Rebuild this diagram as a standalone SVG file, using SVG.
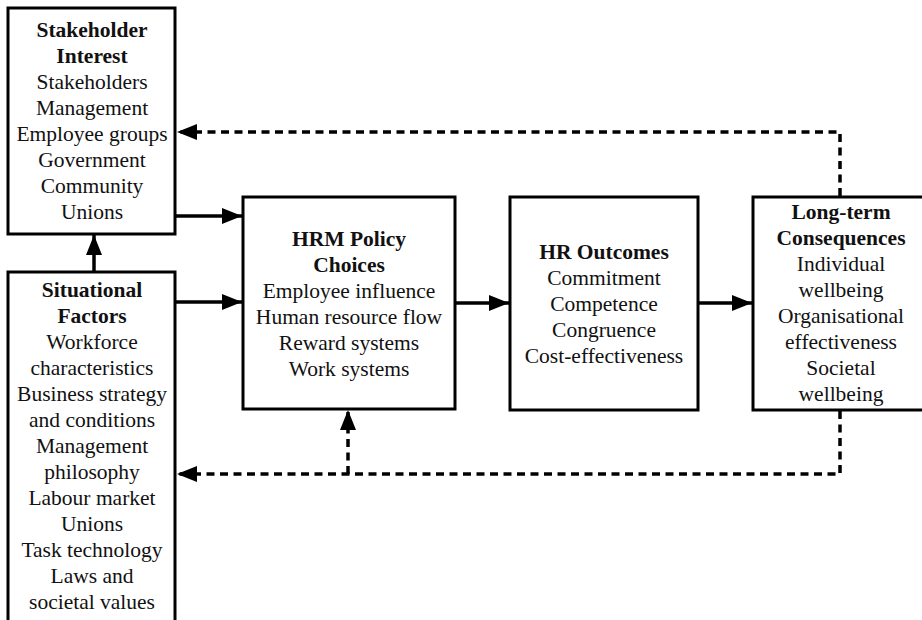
<svg xmlns="http://www.w3.org/2000/svg" width="922" height="620" viewBox="0 0 922 620">
<style>
.box{fill:#fff;stroke:#000;stroke-width:3}
text{font-family:"Liberation Serif","Times New Roman",serif;font-size:21.5px;text-anchor:middle;fill:#111}
.b{font-weight:bold}
.c{fill:none;stroke:#000;stroke-width:3.5}
.d{stroke-dasharray:8 5.5}
</style>
<defs>
<marker id="ah" markerUnits="userSpaceOnUse" viewBox="0 0 20 16" refX="20" refY="8" markerWidth="20" markerHeight="16" orient="auto">
<path d="M0,0 L20,8 L0,16 z" fill="#000"/>
</marker>
</defs>
<rect width="922" height="620" fill="#fff"/>
<g id="stakeholder">
<rect class="box" x="8" y="8" width="167" height="226"/>
<text x="92" y="37" class="b">Stakeholder</text>
<text x="92" y="63" class="b">Interest</text>
<text x="92" y="89">Stakeholders</text>
<text x="92" y="115">Management</text>
<text x="92" y="141">Employee groups</text>
<text x="92" y="167">Government</text>
<text x="92" y="193">Community</text>
<text x="92" y="219">Unions</text>
</g>
<g id="situational">
<rect class="box" x="8" y="272" width="167" height="370"/>
<text x="92" y="297" class="b">Situational</text>
<text x="92" y="323" class="b">Factors</text>
<text x="92" y="349">Workforce</text>
<text x="92" y="375">characteristics</text>
<text x="92" y="401">Business strategy</text>
<text x="92" y="427">and conditions</text>
<text x="92" y="453">Management</text>
<text x="92" y="479">philosophy</text>
<text x="92" y="505">Labour market</text>
<text x="92" y="531">Unions</text>
<text x="92" y="557">Task technology</text>
<text x="92" y="583">Laws and</text>
<text x="92" y="609">societal values</text>
</g>
<g id="hrm">
<rect class="box" x="243" y="197" width="212" height="212"/>
<text x="349" y="246" class="b">HRM Policy</text>
<text x="349" y="272" class="b">Choices</text>
<text x="349" y="298">Employee influence</text>
<text x="349" y="324">Human resource flow</text>
<text x="349" y="350">Reward systems</text>
<text x="349" y="376">Work systems</text>
</g>
<g id="outcomes">
<rect class="box" x="510" y="197" width="188" height="213"/>
<text x="604" y="259" class="b">HR Outcomes</text>
<text x="604" y="285">Commitment</text>
<text x="604" y="311">Competence</text>
<text x="604" y="337">Congruence</text>
<text x="604" y="363">Cost-effectiveness</text>
</g>
<g id="consequences">
<rect class="box" x="753" y="197" width="180" height="213"/>
<text x="841" y="219" class="b">Long-term</text>
<text x="841" y="245" class="b">Consequences</text>
<text x="841" y="271">Individual</text>
<text x="841" y="297">wellbeing</text>
<text x="841" y="323">Organisational</text>
<text x="841" y="349">effectiveness</text>
<text x="841" y="375">Societal</text>
<text x="841" y="401">wellbeing</text>
</g>
<g id="connectors">
<line class="c" x1="175" y1="216" x2="242" y2="216" marker-end="url(#ah)"/>
<line class="c" x1="175" y1="302" x2="242" y2="302" marker-end="url(#ah)"/>
<line class="c" x1="94" y1="272" x2="94" y2="235" marker-end="url(#ah)"/>
<line class="c" x1="455" y1="303" x2="509" y2="303" marker-end="url(#ah)"/>
<line class="c" x1="698" y1="303" x2="752" y2="303" marker-end="url(#ah)"/>
<polyline class="c d" points="840,196 840,132 177,132" marker-end="url(#ah)"/>
<polyline class="c d" points="840,411 840,474 177,474" marker-end="url(#ah)"/>
<line class="c d" x1="348" y1="474" x2="348" y2="410" marker-end="url(#ah)"/>
</g>
</svg>
